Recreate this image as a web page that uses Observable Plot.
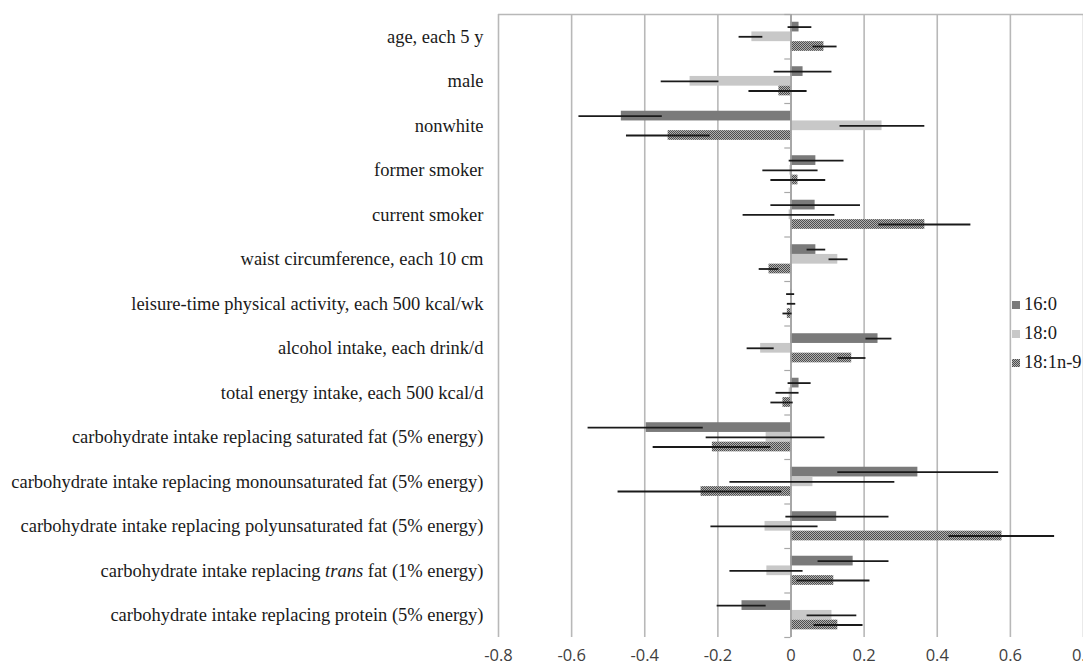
<!DOCTYPE html>
<html>
<head>
<meta charset="utf-8">
<script src="https://cdn.jsdelivr.net/npm/d3@7"></script>
<script src="https://cdn.jsdelivr.net/npm/@observablehq/plot@0.6"></script>
<style>
  html, body { margin: 0; padding: 0; background: #fff; }
  #wrap { position: relative; width: 1083px; height: 669px; overflow: hidden; }
  g[aria-label="y-axis tick label"] text { font-family: "Liberation Serif", "DejaVu Serif", serif; font-size: 18.5px; fill: #1a1a1a; }
  g[aria-label="x-axis tick label"] text { font-family: "Open Sans", "Liberation Sans", sans-serif; font-size: 16.5px; fill: #404040; }
  #legend { position: absolute; left: 1012px; top: 292px; font-family: "Liberation Serif", serif; font-size: 18.5px; color: #1a1a1a; }
  #legend .item { position: relative; height: 29px; line-height: 24px; white-space: nowrap; }
  #legend .sw { display: inline-block; width: 8px; height: 8px; margin-right: 4px; vertical-align: 1px; }
</style>
</head>
<body>
<div id="wrap"></div>
<script>
const categories = [
  "age, each 5 y",
  "male",
  "nonwhite",
  "former smoker",
  "current smoker",
  "waist circumference, each 10 cm",
  "leisure-time physical activity, each 500 kcal/wk",
  "alcohol intake, each drink/d",
  "total energy intake, each 500 kcal/d",
  "carbohydrate intake replacing saturated fat (5% energy)",
  "carbohydrate intake replacing monounsaturated fat (5% energy)",
  "carbohydrate intake replacing polyunsaturated fat (5% energy)",
  "carbohydrate intake replacing trans fat (1% energy)",
  "carbohydrate intake replacing protein (5% energy)"
];
const series = ["16:0", "18:0", "18:1n-9"];

const est160 = [0.022, 0.033, -0.464, 0.068, 0.066, 0.068, 0.002, 0.238, 0.022, -0.396, 0.347, 0.125, 0.170, -0.134];
const lo160  = [-0.008, -0.046, -0.580, -0.005, -0.055, 0.044, -0.012, 0.205, -0.008, -0.555, 0.128, -0.014, 0.074, -0.202];
const hi160  = [0.057, 0.112, -0.352, 0.145, 0.190, 0.095, 0.010, 0.276, 0.055, -0.240, 0.568, 0.268, 0.268, -0.068];

const est180 = [-0.107, -0.276, 0.249, -0.003, -0.005, 0.128, 0.001, -0.083, -0.005, -0.068, 0.060, -0.071, -0.066, 0.112];
const lo180  = [-0.142, -0.355, 0.134, -0.077, -0.131, 0.104, -0.010, -0.120, -0.041, -0.232, -0.167, -0.219, -0.167, 0.044];
const hi180  = [-0.077, -0.197, 0.366, 0.074, 0.120, 0.156, 0.013, -0.046, 0.022, 0.093, 0.284, 0.074, 0.033, 0.180];

const est181 = [0.090, -0.033, -0.336, 0.019, 0.366, -0.060, -0.010, 0.166, -0.022, -0.215, -0.246, 0.577, 0.117, 0.128];
const lo181  = [0.060, -0.115, -0.450, -0.055, 0.240, -0.087, -0.022, 0.128, -0.055, -0.377, -0.473, 0.432, 0.016, 0.063];
const hi181  = [0.126, 0.044, -0.221, 0.095, 0.492, -0.033, 0.003, 0.205, 0.006, -0.055, -0.025, 0.721, 0.216, 0.197];

const xTicks = [-0.8, -0.6, -0.4, -0.2, 0, 0.2, 0.4, 0.6, 0.8];

const fills = { "16:0": "#7a7a7a", "18:0": "#c8c8c8", "18:1n-9": "url(#chk)" };

const estimates = [est160, est180, est181];
const lows = [lo160, lo180, lo181];
const highs = [hi160, hi180, hi181];

const rows = [];
categories.forEach((cat, i) => {
  series.forEach((s, k) => {
    rows.push({ cat, i, series: s, k, value: estimates[k][i], lo: lows[k][i], hi: highs[k][i] });
  });
});

// layout within each category band (category index units)
const pad = 0.174, bw = 0.218;
const yTop = d => d.i + pad + d.k * bw;

const plot = Plot.plot({
  width: 1083,
  height: 669,
  marginLeft: 498,
  marginRight: 0,
  marginTop: 14,
  marginBottom: 32,
  x: { domain: [-0.8, 0.8], ticks: xTicks, tickFormat: d => String(+d.toFixed(1)), tickSize: 0, tickPadding: 12, label: null },
  y: { domain: [14, 0], ticks: d3.range(14).map(i => i + 0.5), tickFormat: d => categories[Math.floor(d)], tickSize: 0, tickPadding: 15, label: null },
  marks: [
    Plot.ruleX(xTicks, { stroke: "#b8b8b8", strokeWidth: 1.6 }),
    Plot.ruleY([0], { stroke: "#b8b8b8", strokeWidth: 1.6 }),
    ...series.map(s => Plot.rect(rows.filter(d => d.series === s), {
      x1: 0, x2: "value", y1: yTop, y2: d => yTop(d) + bw, fill: fills[s]
    })),
    Plot.ruleX([0], { stroke: "#a0a0a0", strokeWidth: 1.6 }),
    Plot.ruleY(d3.range(0, 15), { x1: -0.017, x2: 0, stroke: "#a8a8a8", strokeWidth: 1.2 }),
    Plot.ruleY(rows, { y: d => yTop(d) + bw / 2, x1: "lo", x2: "hi", stroke: "#1a1a1a", strokeWidth: 1.8 })
  ]
});

// checkered pattern for 18:1n-9
const ns = "http://www.w3.org/2000/svg";
const defs = document.createElementNS(ns, "defs");
defs.innerHTML = '<pattern id="chk" width="2" height="2" patternUnits="userSpaceOnUse">' +
  '<rect width="2" height="2" fill="#b0b0b0"/>' +
  '<rect width="1" height="1" fill="#4e4e4e"/>' +
  '<rect x="1" y="1" width="1" height="1" fill="#4e4e4e"/></pattern>';
plot.insertBefore(defs, plot.firstChild);

// italicise "trans"
plot.querySelectorAll('g[aria-label="y-axis tick label"] text').forEach(t => {
  const s = t.textContent;
  const idx = s.indexOf(" trans ");
  if (idx >= 0) {
    while (t.firstChild) t.removeChild(t.firstChild);
    const parts = [s.slice(0, idx + 1), "trans", s.slice(idx + 6)];
    parts.forEach((p, j) => {
      const ts = document.createElementNS(ns, "tspan");
      ts.textContent = p;
      if (j === 1) ts.setAttribute("font-style", "italic");
      t.appendChild(ts);
    });
  }
});

const wrap = document.getElementById("wrap");
wrap.appendChild(plot);

// legend
const legend = document.createElement("div");
legend.id = "legend";
series.forEach(s => {
  const item = document.createElement("div");
  item.className = "item";
  const sw = document.createElement("span");
  sw.className = "sw";
  sw.style.background = s === "18:1n-9"
    ? "repeating-conic-gradient(#4e4e4e 0 25%, #b0b0b0 0 50%) 0 0 / 2px 2px"
    : fills[s];
  item.appendChild(sw);
  item.appendChild(document.createTextNode(s));
  legend.appendChild(item);
});
wrap.appendChild(legend);
</script>
</body>
</html>
